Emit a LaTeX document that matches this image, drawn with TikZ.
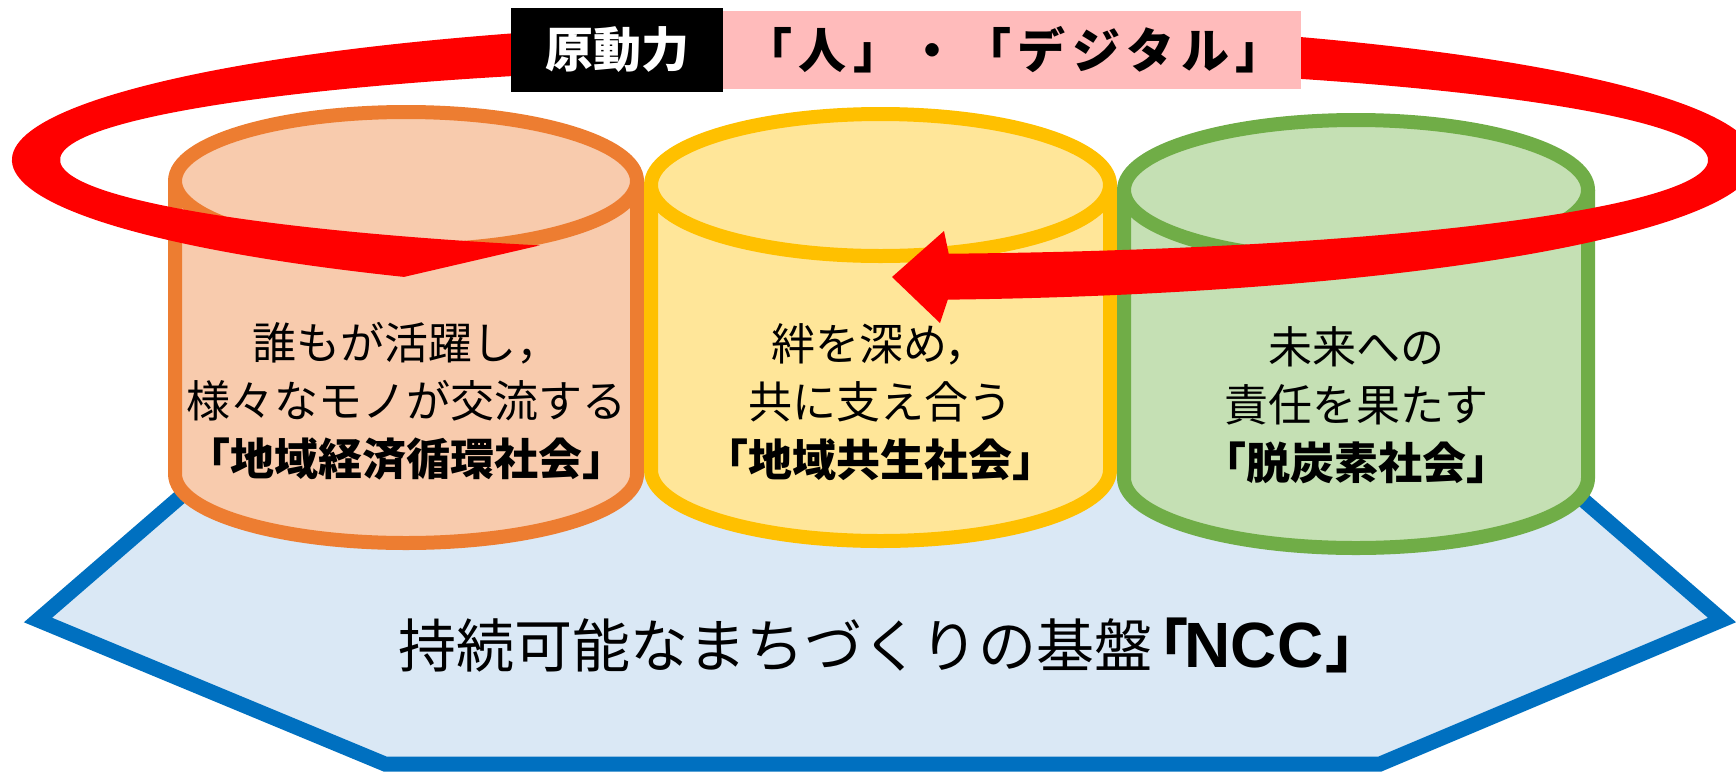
\documentclass[tikz,border=0pt]{standalone}
\usepackage{fontspec}
\setmainfont{Noto Sans CJK JP}
\newfontfamily\latinbold{Liberation Sans}
\definecolor{ringRed}{HTML}{FF0000}
\definecolor{tagPink}{HTML}{FFBBBB}
\definecolor{cylOrange}{HTML}{ED7D31}
\definecolor{fillOrange}{HTML}{F8CBAD}
\definecolor{cylYellow}{HTML}{FFC000}
\definecolor{fillYellow}{HTML}{FFE699}
\definecolor{cylGreen}{HTML}{70AD47}
\definecolor{fillGreen}{HTML}{C5E0B4}
\definecolor{baseBlue}{HTML}{0070C0}
\definecolor{baseFill}{HTML}{DAE8F5}
\tikzset{
  cyl/.style={line width=14pt, line join=round},
  basebox/.style={draw=baseBlue, fill=baseFill, line width=15pt, line join=miter},
  linetext/.style={align=center, inner sep=0pt, font=\fontsize{44}{58}\selectfont},
  tagbox/.style={inner sep=0pt, font=\bfseries\fontsize{48}{52}\selectfont},
}
\begin{document}
\begin{tikzpicture}[x=1pt,y=-1pt]
\useasboundingbox (0,0) rectangle (1736,772);
% base hexagon
\path[basebox] (38,620) -- (246,440) -- (1514,440) -- (1722,620) -- (1380,764) -- (385,764) -- cycle;
% orange cylinder
\path[cyl, draw=cylOrange, fill=fillOrange] (175,181) -- (175,474) arc[start angle=180, end angle=0, x radius=231, y radius=69] -- (637,181);
\path[cyl, draw=cylOrange, fill=fillOrange] (406,181) ellipse [x radius=231, y radius=69];
% yellow cylinder
\path[cyl, draw=cylYellow, fill=fillYellow] (651,185) -- (651,470) arc[start angle=180, end angle=0, x radius=229.5, y radius=71] -- (1110,185);
\path[cyl, draw=cylYellow, fill=fillYellow] (880.5,185) ellipse [x radius=229.5, y radius=71];
% green cylinder
\path[cyl, draw=cylGreen, fill=fillGreen] (1124,190) -- (1124,478) arc[start angle=180, end angle=0, x radius=232, y radius=70] -- (1588,190);
\path[cyl, draw=cylGreen, fill=fillGreen] (1356,190) ellipse [x radius=232, y radius=70];
% red circular arrow
\fill[ringRed] (404,276.9) arc[start angle=123.4, end angle=445.8, x radius=872, y radius=140]
  -- (940,323) -- (892,277) -- (944,231) -- (948.7,253.7)
  arc[start angle=445.5, end angle=114.7, x radius=824, y radius=94] -- cycle;
% top labels
\node[tagbox, fill=black, text=white, minimum width=212pt, minimum height=84pt] (drive) at (617,50) {原動力};
\node[tagbox, fill=tagPink, minimum width=578pt, minimum height=78pt] (keys) at (1012,50) {\addfontfeatures{LetterSpace=14}「人」・「デジタル」\kern-4pt};
% cylinder texts
\node[linetext] (econ) at (406,401) {誰もが活躍し，\\様々なモノが交流する\\{\bfseries 「地域経済循環社会」}};
\node[linetext] (commun) at (880,402) {絆を深め，\\共に支え合う\\{\bfseries 「地域共生社会」}};
\node[linetext] (carbon) at (1356,405) {未来への\\責任を果たす\\{\bfseries 「脱炭素社会」}};
% base text
\node[inner sep=0pt, font=\fontsize{58}{62}\selectfont] (base) at (878,645) {持続可能なまちづくりの基盤\kern-22pt{\bfseries 「}\kern-4pt{\latinbold\bfseries\fontsize{64}{66}\selectfont NCC}\kern2pt{\bfseries 」}\kern-26pt};
\end{tikzpicture}
\end{document}
